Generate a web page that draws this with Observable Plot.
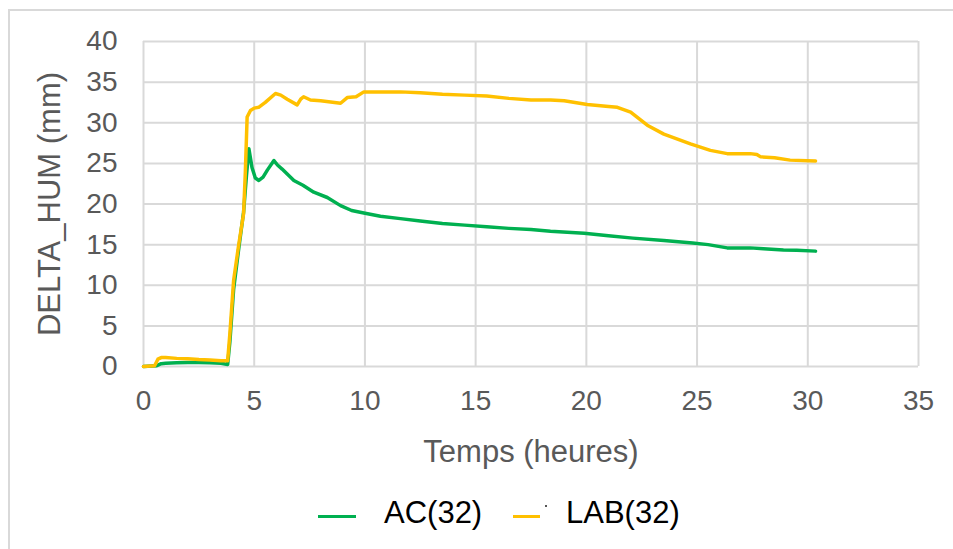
<!DOCTYPE html>
<html>
<head>
<meta charset="utf-8">
<script src="https://cdn.jsdelivr.net/npm/d3@7"></script>
<script src="https://cdn.jsdelivr.net/npm/@observablehq/plot@0.6"></script>
<style>
  html, body { margin: 0; padding: 0; background: #fff; }
  body { width: 953px; height: 549px; position: relative; overflow: hidden; font-family: "Liberation Sans", Arial, sans-serif; }
  #frame { position: absolute; left: 8px; top: 9px; width: 960px; height: 560px; border-left: 2px solid #d9d9d9; border-top: 2px solid #d9d9d9; box-sizing: border-box; }
  #chart { position: absolute; left: 0; top: 0; }
  #legend { position: absolute; left: 0; top: 0; width: 953px; height: 549px; pointer-events: none; }
  .sw { position: absolute; height: 3px; }
  .lt { position: absolute; font-size: 31px; color: #000; line-height: 1; }
</style>
</head>
<body>
<div id="frame"></div>
<div id="chart"></div>
<div id="legend"></div>
<script>
const seriesNames = ["AC(32)", "LAB(32)"];
const seriesColors = ["#00b050", "#ffc000"];
const xTicks = [0, 5, 10, 15, 20, 25, 30, 35];
const yTicks = [0, 5, 10, 15, 20, 25, 30, 35, 40];

const acTime = [0, 0.6, 0.8, 1.0, 1.5, 2.0, 2.5, 3.0, 3.5, 3.8, 3.9, 4.07, 4.3, 4.52, 4.65, 4.76, 4.9, 5.05, 5.21, 5.4, 5.6, 5.89, 6.05, 6.26, 6.79, 7.2, 7.69, 8.3, 8.9, 9.4, 9.95, 10.7, 11.6, 12.5, 13.5, 14.5, 15.5, 16.5, 17.5, 18.38, 19.9, 21.0, 22.1, 23.5, 24.8, 25.5, 26.36, 27.4, 28.0, 28.9, 29.5, 30.35];
const acValue = [0, 0.1, 0.35, 0.4, 0.45, 0.5, 0.5, 0.45, 0.4, 0.25, 3, 9.5, 14.5, 19, 23.5, 26.8, 24.5, 23.2, 22.9, 23.3, 24.2, 25.35, 24.8, 24.3, 22.9, 22.3, 21.45, 20.8, 19.8, 19.2, 18.9, 18.5, 18.2, 17.9, 17.6, 17.4, 17.2, 17.0, 16.85, 16.65, 16.4, 16.1, 15.8, 15.5, 15.2, 15.0, 14.6, 14.6, 14.5, 14.35, 14.3, 14.2];

const labTime = [0, 0.5, 0.65, 0.8, 1.0, 1.5, 2.0, 2.5, 3.0, 3.5, 3.8, 3.9, 4.07, 4.3, 4.52, 4.6, 4.68, 4.83, 5.0, 5.2, 5.5, 5.96, 6.2, 6.49, 6.94, 7.1, 7.23, 7.54, 8.0, 8.9, 9.2, 9.6, 9.95, 10.5, 11.6, 12.5, 13.5, 14.5, 15.5, 16.5, 17.5, 18.38, 19.0, 20.04, 21.0, 21.4, 22.0, 22.75, 23.5, 24.7, 25.6, 26.36, 27.4, 27.7, 27.87, 28.5, 29.2, 30.35];
const labValue = [0, 0.1, 0.9, 1.1, 1.1, 1.0, 0.95, 0.85, 0.8, 0.7, 0.7, 4, 10.6, 15, 18.8, 24, 30.7, 31.5, 31.8, 31.9, 32.5, 33.6, 33.4, 32.9, 32.2, 32.9, 33.2, 32.8, 32.7, 32.4, 33.1, 33.2, 33.8, 33.8, 33.8, 33.7, 33.5, 33.4, 33.3, 33.0, 32.8, 32.8, 32.7, 32.25, 32.0, 31.9, 31.3, 29.7, 28.6, 27.4, 26.6, 26.2, 26.2, 26.1, 25.8, 25.7, 25.4, 25.3];

const ac = acTime.map((t, i) => ({t, v: acValue[i]}));
const lab = labTime.map((t, i) => ({t, v: labValue[i]}));

const textColor = "#595959";
const gridColor = "#d9d9d9";

const plot = Plot.plot({
  width: 953,
  height: 476,
  marginLeft: 143,
  marginRight: 35,
  marginTop: 41,
  marginBottom: 110,
  style: { fontFamily: "Liberation Sans, Arial, sans-serif", fontSize: "28px", color: textColor, background: "transparent", overflow: "visible" },
  x: { domain: [0, 35], ticks: xTicks, tickSize: 0, tickPadding: 24, label: null },
  y: { domain: [0, 40], ticks: yTicks, tickSize: 0, tickPadding: 26, label: null },
  marks: [
    Plot.ruleX(xTicks, { x: d => d, stroke: gridColor, strokeWidth: 2 }),
    Plot.ruleY(yTicks, { y: d => d, stroke: gridColor, strokeWidth: 2 }),
    Plot.line(ac, { x: "t", y: "v", stroke: seriesColors[0], strokeWidth: 3.5 }),
    Plot.line(lab, { x: "t", y: "v", stroke: seriesColors[1], strokeWidth: 3.5 }),
    Plot.text(["DELTA_HUM (mm)"], { frameAnchor: "left", text: d => d, rotate: -90, dx: -93, fill: textColor, fontSize: 31, textAnchor: "middle", lineAnchor: "middle" }),
    Plot.text(["Temps (heures)"], { frameAnchor: "bottom", text: d => d, dy: 86, fill: textColor, fontSize: 31, textAnchor: "middle", lineAnchor: "middle" })
  ]
});
document.getElementById("chart").appendChild(plot);

// Legend
const legend = document.getElementById("legend");
const items = [
  { name: seriesNames[0], color: seriesColors[0], x1: 318, x2: 356, tx: 384 },
  { name: seriesNames[1], color: seriesColors[1], x1: 513, x2: 540, tx: 566 }
];
items.forEach(it => {
  const s = document.createElement("div");
  s.className = "sw";
  s.style.left = it.x1 + "px";
  s.style.width = (it.x2 - it.x1) + "px";
  s.style.top = "515px";
  s.style.background = it.color;
  legend.appendChild(s);
  const t = document.createElement("div");
  t.className = "lt";
  t.style.left = it.tx + "px";
  t.style.top = "497px";
  t.textContent = it.name;
  legend.appendChild(t);
});
const dot = document.createElement("div");
dot.style.cssText = "position:absolute;left:545px;top:505px;width:2px;height:2px;background:#555;";
legend.appendChild(dot);
</script>
</body>
</html>
